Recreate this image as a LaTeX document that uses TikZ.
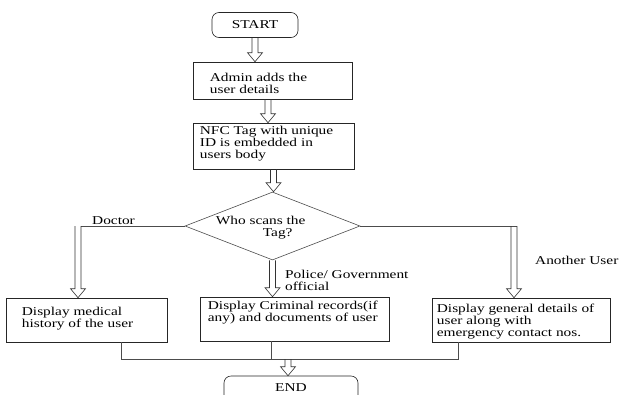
\documentclass[tikz,border=0pt]{standalone}
\usepackage{fontspec}
\setmainfont[FakeStretch=1.28]{Liberation Serif}
\usetikzlibrary{shapes.geometric,calc}
\tikzset{
  txt/.style={font=\fontsize{12}{12}\selectfont, text=black, inner sep=0pt},
  lbl/.style={txt, anchor=west, align=left},
  box/.style={draw=black!85, line width=0.6pt, rectangle, inner sep=0pt},
  term/.style={draw=black!85, line width=0.6pt, rectangle, rounded corners=7pt, inner sep=0pt, txt},
  dec/.style={draw=black!70, line width=0.6pt, diamond, inner sep=0pt},
  conn/.style={draw=black!70, line width=0.6pt},
  hollow/.style={draw=black!80, line width=0.6pt, to path={
    let \p1=(\tikztostart), \p2=(\tikztotarget) in
    (\x1-3pt,\y1) -- (\x1-3pt,\y2+9pt) -- (\x1-7.5pt,\y2+9pt) -- (\x1,\y2)
    -- (\x1+7.5pt,\y2+9pt) -- (\x1+3pt,\y2+9pt) -- (\x1+3pt,\y1)}}
}
\begin{document}
\begin{tikzpicture}[x=1pt,y=-1pt]
\useasboundingbox (0,0) rectangle (619,394);
\clip (0,0) rectangle (619,394);

\node[term, minimum width=86pt, minimum height=25pt] (start) at (255,25) {START};
\node[box, minimum width=159pt, minimum height=37pt,
  label={[lbl, xshift=17pt, yshift=-3pt]west:{Admin adds the\\user details}}] (admin) at (272.5,80.5) {};
\node[box, minimum width=161pt, minimum height=46pt,
  label={[lbl, xshift=7pt, yshift=2.5pt]west:{NFC Tag with unique\\ID is embedded in\\users body}}] (nfc) at (273.5,146) {};
\node[dec, minimum width=175pt, minimum height=68pt,
  label={[lbl, xshift=31pt, yshift=-1.5pt]west:{Who scans the\\\hspace*{47pt}Tag?}}] (dia) at (272.5,226) {};

\node[box, minimum width=161pt, minimum height=44pt,
  label={[lbl, xshift=16pt, yshift=1.5pt]west:{Display medical\\history of the user}}] (lbox) at (86.5,320) {};
\node[box, minimum width=189pt, minimum height=44pt,
  label={[lbl, xshift=8pt, yshift=6pt]west:{Display Criminal records(if\\any) and documents of user}}] (mbox) at (294.5,319) {};
\node[box, minimum width=178pt, minimum height=44pt,
  label={[lbl, xshift=5pt, yshift=-2pt]west:{Display general details of\\user along with\\emergency contact nos.}}] (rbox) at (521,320) {};

\node[term, minimum width=134pt, minimum height=34pt,
  label={[txt, yshift=5pt]center:END}] (endn) at (291,393) {};

\node[lbl] (ldoc) at (92,221) {Doctor};
\node[lbl] (lpol) at (285,280.5) {Police/ Government\\official};
\node[lbl] (lano) at (535,260) {Another User};

\coordinate (dl) at (78,226);
\coordinate (dr) at (514,226);
\coordinate (jl) at (121,359);
\coordinate (jr) at (458,359);
\coordinate (jm) at (271,359);
\coordinate (ja) at (288,359);

\draw[hollow] (start.south) to (admin.north);
\draw[hollow] ([xshift=-4.5pt]admin.south) to (nfc.north);
\draw[hollow] (nfc.south) to (dia.north);

\draw[conn] (dia.west) -- ([xshift=3pt]dl);
\draw[hollow] (dl) to (lbox.north);
\draw[hollow] (dia.south) to (mbox.north);
\draw[conn] (dia.east) -- ([xshift=3pt]dr);
\draw[hollow] (dr) to (rbox.north);

\draw[conn] (lbox.south -| jl) -- (jl) -- (jr) -- (rbox.south -| jr);
\draw[conn] (mbox.south -| jm) -- (jm);
\draw[hollow] (ja) to (endn.north);
\end{tikzpicture}
\end{document}
